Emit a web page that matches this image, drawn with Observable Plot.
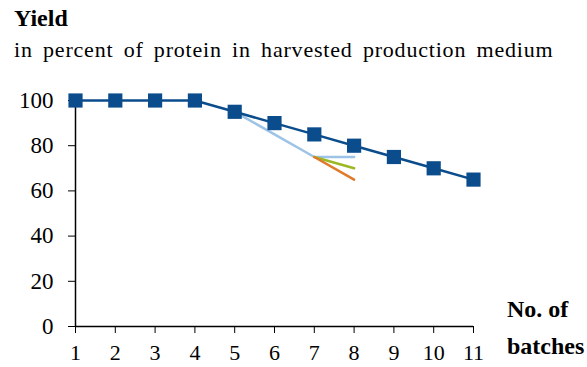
<!DOCTYPE html>
<html>
<head>
<meta charset="utf-8">
<script src="https://cdn.jsdelivr.net/npm/d3@7"></script>
<script src="https://cdn.jsdelivr.net/npm/@observablehq/plot@0.6"></script>
<style>
  body { margin: 0; background: #fff; }
  #wrap { position: relative; width: 587px; height: 367px; font-family: 'Liberation Serif', serif; color: #000; overflow: hidden; }
  #title { position: absolute; left: 14px; top: 6px; font-size: 24px; font-weight: bold; line-height: 1; white-space: nowrap; }
  #subtitle { position: absolute; left: 14px; top: 39px; font-size: 22px; line-height: 1; letter-spacing: 0.8px; word-spacing: 4px; white-space: nowrap; }
  #chart { position: absolute; left: 0; top: 70px; }
  #xlabel { position: absolute; left: 507px; top: 291px; font-size: 24px; font-weight: bold; line-height: 37px; white-space: nowrap; }
</style>
</head>
<body>
<div id="wrap">
  <div id="title">Yield</div>
  <div id="subtitle">in percent of protein in harvested production medium</div>
  <div id="chart"></div>
  <div id="xlabel">No. of<br>batches</div>
</div>
<script>
const batches = [1, 2, 3, 4, 5, 6, 7, 8, 9, 10, 11];
const yieldMain = [100, 100, 100, 100, 95, 90, 85, 80, 75, 70, 65];
const lightBlueX = [5, 6, 7, 8];
const lightBlueY = [95, 85, 75, 75];
const greenX = [7, 8];
const greenY = [75, 70];
const orangeX = [7, 8];
const orangeY = [75, 65];
const yTicks = [0, 20, 40, 60, 80, 100];

const main = batches.map((b, i) => ({x: b, y: yieldMain[i]}));
const lb = lightBlueX.map((b, i) => ({x: b, y: lightBlueY[i]}));
const gr = greenX.map((b, i) => ({x: b, y: greenY[i]}));
const orr = orangeX.map((b, i) => ({x: b, y: orangeY[i]}));

const plot = Plot.plot({
  width: 587,
  height: 297,
  marginLeft: 75,
  marginRight: 114,
  marginTop: 30,
  marginBottom: 41,
  style: {fontFamily: "'Liberation Serif', serif", fontSize: "23px", color: "#000", background: "#fff", overflow: "visible"},
  x: {domain: [1, 11]},
  y: {domain: [0, 100]},
  marks: [
    Plot.axisY({ticks: yTicks, tickSize: 7, tickPadding: 15, fontSize: 23, label: null, tickFormat: d => d}),
    Plot.axisX({ticks: batches, tickSize: 7, tickPadding: 11, fontSize: 22, label: null, tickFormat: d => d}),
    Plot.ruleX([1], {y1: 0, y2: 100, stroke: "#000", strokeWidth: 1.5}),
    Plot.ruleY([0], {stroke: "#000", strokeWidth: 1.5}),
    Plot.line(lb, {x: "x", y: "y", stroke: "#9DC3E6", strokeWidth: 2.5}),
    Plot.line(gr, {x: "x", y: "y", stroke: "#9CB925", strokeWidth: 2.5}),
    Plot.line(orr, {x: "x", y: "y", stroke: "#E07A2B", strokeWidth: 2.5}),
    Plot.line(main, {x: "x", y: "y", stroke: "#0B4C8C", strokeWidth: 2.5}),
    Plot.dot(main, {x: "x", y: "y", symbol: "square", r: 8, fill: "#0B4C8C", stroke: "none"})
  ]
});
document.getElementById("chart").appendChild(plot);
</script>
</body>
</html>
